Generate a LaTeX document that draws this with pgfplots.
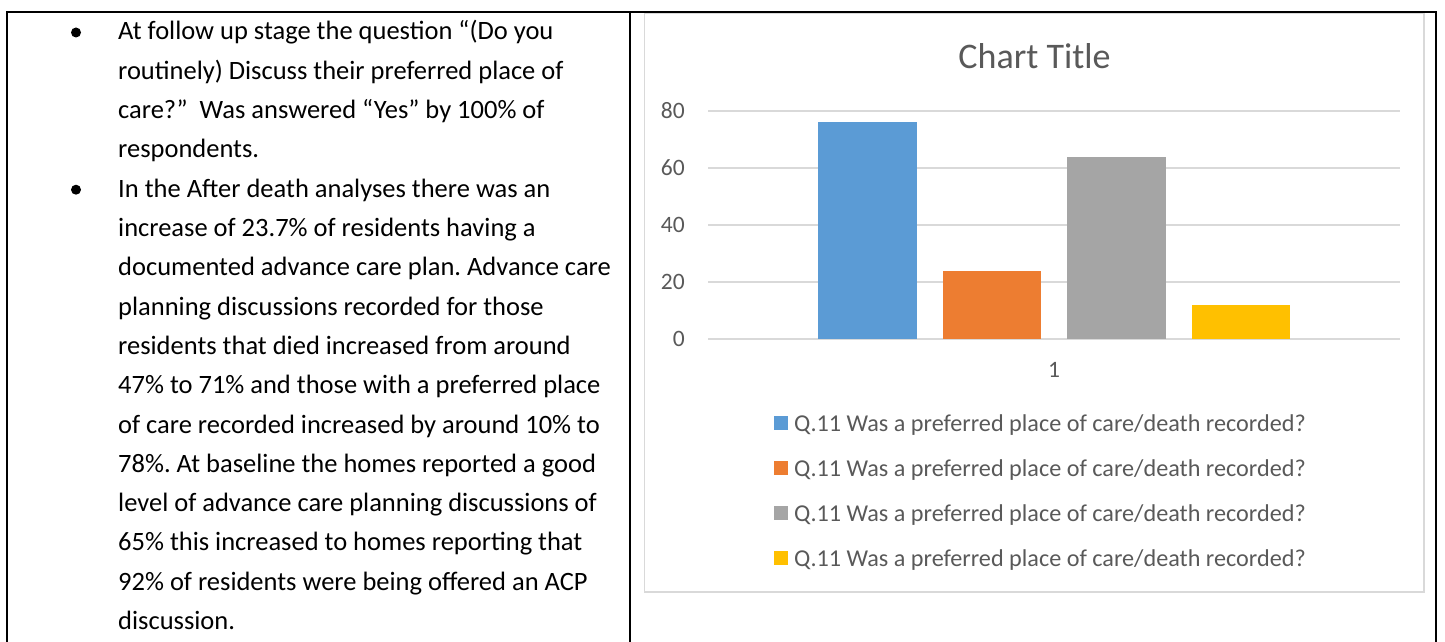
\documentclass[border=0pt]{standalone}
\usepackage{fontspec}
\setmainfont{Carlito}
\usepackage{pgfplots}
\pgfplotsset{compat=1.18}
\frenchspacing

\definecolor{cblue}{HTML}{5B9BD5}
\definecolor{corange}{HTML}{ED7D31}
\definecolor{cgray}{HTML}{A5A5A5}
\definecolor{cyellow}{HTML}{FFC000}
\definecolor{ctext}{HTML}{595959}
\definecolor{cgrid}{HTML}{D9D9D9}

\pgfplotsset{
	sq/.style={legend image code/.code={\fill[##1] (0pt,1pt) rectangle (14pt,15pt);}},
}

\begin{document}
\begin{tikzpicture}
	\useasboundingbox (0pt,0pt) rectangle (1445pt,-642pt);
	\begin{scope}[x=1pt,y=-1pt]
		% table frame
		\draw[line width=1.8pt] (7,642) -- (7,12) -- (1436,12) -- (1436,642);
		\draw[line width=1.8pt] (630,12) -- (630,642);
		% chart area border
		\draw[cgrid, line width=1.5pt] (644.5,13.5) rectangle (1424,592);
		% bullets
		\fill (76,32.5) circle (5);
		\fill (76,189.7) circle (5);
		% left cell text
		\begin{scope}[every node/.style={anchor=base west, inner sep=0pt, font=\fontsize{26.5}{39}\selectfont}]
			\node at (118,40.0)  {At follow up stage the question “(Do you};
			\node at (118,79.3)  {routinely) Discuss their preferred place of};
			\node at (118,118.6) {care?”\ \ Was answered “Yes” by 100\% of};
			\node at (118,157.9) {respondents.};
			\node at (118,197.2) {In the After death analyses there was an};
			\node at (118,236.5) {increase of 23.7\% of residents having a};
			\node at (118,275.8) {documented advance care plan. Advance care};
			\node at (118,315.1) {planning discussions recorded for those};
			\node at (118,354.4) {residents that died increased from around};
			\node at (118,393.7) {47\% to 71\% and those with a preferred place};
			\node at (118,433.0) {of care recorded increased by around 10\% to};
			\node at (118,472.3) {78\%. At baseline the homes reported a good};
			\node at (118,511.6) {level of advance care planning discussions of};
			\node at (118,550.9) {65\% this increased to homes reporting that};
			\node at (118,590.2) {92\% of residents were being offered an ACP};
			\node at (118,629.5) {discussion.};
		\end{scope}
	\end{scope}

	\begin{axis}[
		at={(708pt,-339pt)}, anchor=south west,
		scale only axis,
		width=692pt, height=228pt,
		xmin=0, xmax=2, ymin=0, ymax=80,
		ybar=26pt, bar width=98.5pt,
		xtick={1}, ytick={0,20,40,60,80},
		axis line style={draw=none},
		major tick length=0pt,
		ymajorgrids,
		grid style={line width=1.6pt, color=cgrid},
		/pgf/number format/assume math mode=true,
		ticklabel style={font=\fontsize{23.5}{23.5}\selectfont, text=ctext},
		yticklabel style={anchor=east, inner sep=0pt, xshift=-23pt},
		xticklabel style={anchor=base, inner sep=0pt, yshift=-38pt},
		title={Chart Title},
		title style={at={(axis description cs:0.4718,1.162)}, anchor=base,
			inner sep=0pt, font=\fontsize{36}{36}\selectfont, text=ctext},
		legend style={at={(axis description cs:0.0954,-0.3289)}, anchor=north west,
			draw=none, fill=none, inner sep=0pt, row sep=23pt, column sep=6pt,
			font=\fontsize{24.2}{24.2}\selectfont, text=ctext,
			nodes={anchor=base west, inner sep=0pt, text height=17pt, text depth=5pt}},
		legend cell align=left,
	]
		\addplot[fill=cblue, draw=none, sq] coordinates {(1,76)};
		\addlegendentry{Q.11 Was a preferred place of care/death recorded?}
		\addplot[fill=corange, draw=none, sq] coordinates {(1,24)};
		\addlegendentry{Q.11 Was a preferred place of care/death recorded?}
		\addplot[fill=cgray, draw=none, sq] coordinates {(1,64)};
		\addlegendentry{Q.11 Was a preferred place of care/death recorded?}
		\addplot[fill=cyellow, draw=none, sq] coordinates {(1,12)};
		\addlegendentry{Q.11 Was a preferred place of care/death recorded?}
	\end{axis}
\end{tikzpicture}
\end{document}
